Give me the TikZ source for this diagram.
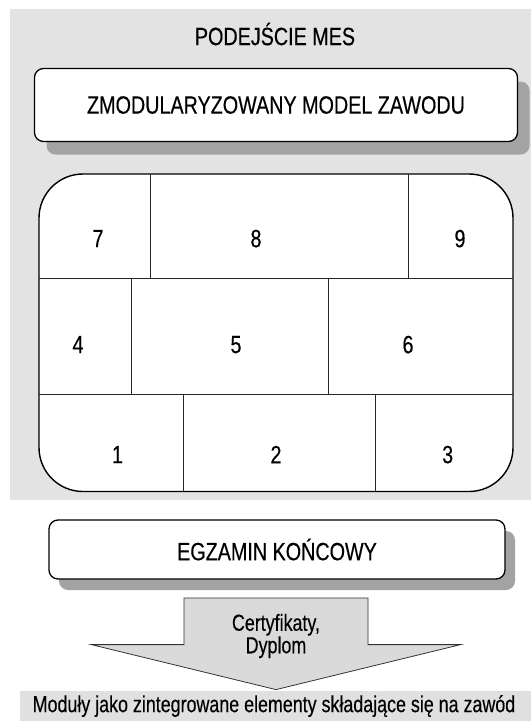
\documentclass[tikz,border=0pt]{standalone}
\usepackage{fontspec}
\setmainfont{Liberation Sans}[FakeStretch=0.79, FakeBold=0.3]
\newfontfamily\lowfont{Liberation Sans}[FakeStretch=0.77, FakeBold=0.3]
\usetikzlibrary{shadows}
\definecolor{bggray}{HTML}{E3E3E3}
\definecolor{shgray}{HTML}{A3A3A3}
\definecolor{arrgray}{HTML}{DADADA}
\definecolor{bandgray}{HTML}{E0E0E0}
\definecolor{edgegray}{HTML}{333333}
\tikzset{
  txt/.style={font=\fontsize{25}{25}\selectfont, text=black, inner sep=0pt},
  lowtxt/.style={font=\lowfont\fontsize{23.2}{22.5}\selectfont, text=black, inner sep=0pt},
  sbox/.style={draw=black, line width=1.3pt, fill=white, rounded corners=9pt, inner sep=0pt, txt},
  gridline/.style={draw=black!85, line width=1pt},
}
\begin{document}
\begin{tikzpicture}[x=1pt,y=-1pt]
\useasboundingbox (0,0) rectangle (531,721);
% background panel
\fill[bggray] (10,8.5) rectangle (531,500);
\node[txt] (title) at (275,34) {PODEJŚCIE MES};
% top box
\node[sbox, minimum width=483pt, minimum height=73pt,
  drop shadow={shadow xshift=12pt, shadow yshift=-13pt, fill=shgray, opacity=1}]
  (model) at (276,105) {ZMODULARYZOWANY MODEL ZAWODU};
% grid box
\draw[fill=white, draw=black, line width=1.4pt, rounded corners=44pt] (39,174) rectangle (513,491.5);
\draw[gridline] (39,278.5) -- (513,278.5);
\draw[gridline] (39,394.7) -- (513,394.7);
\draw[gridline] (150.7,174) -- (150.7,278.5);
\draw[gridline] (408,174) -- (408,278.5);
\draw[gridline] (131,278.5) -- (131,394.7);
\draw[gridline] (328.5,278.5) -- (328.5,394.7);
\draw[gridline] (183.5,394.7) -- (183.5,491.5);
\draw[gridline] (375,394.7) -- (375,491.5);
\node[txt] (c7) at (98,238.6) {7};
\node[txt] (c8) at (256,238.6) {8};
\node[txt] (c9) at (460,238.6) {9};
\node[txt] (c4) at (78,344.6) {4};
\node[txt] (c5) at (236,344.6) {5};
\node[txt] (c6) at (408,344.6) {6};
\node[txt] (c1) at (117.5,454.6) {1};
\node[txt] (c2) at (276,454.6) {2};
\node[txt] (c3) at (447.7,454.6) {3};
% exam box
\node[sbox, minimum width=456pt, minimum height=59pt,
  drop shadow={shadow xshift=10pt, shadow yshift=-11pt, fill=shgray, opacity=1}]
  (exam) at (277,549.5) {EGZAMIN KOŃCOWY};
% arrow
\draw[fill=arrgray, draw=edgegray, line width=0.8pt]
  (184,598) -- (368,598) -- (368,644.6) -- (460.6,644.6) -- (276,689.6)
  -- (91.4,644.6) -- (184,644.6) -- cycle;
\node[lowtxt, align=center] (cert) at (276,636) {Certyfikaty,\\Dyplom};
% bottom band
\fill[bandgray] (20,691) rectangle (531,721);
\node[lowtxt] (band) at (274,706) {Moduły jako zintegrowane elementy składające się na zawód};
\end{tikzpicture}
\end{document}
